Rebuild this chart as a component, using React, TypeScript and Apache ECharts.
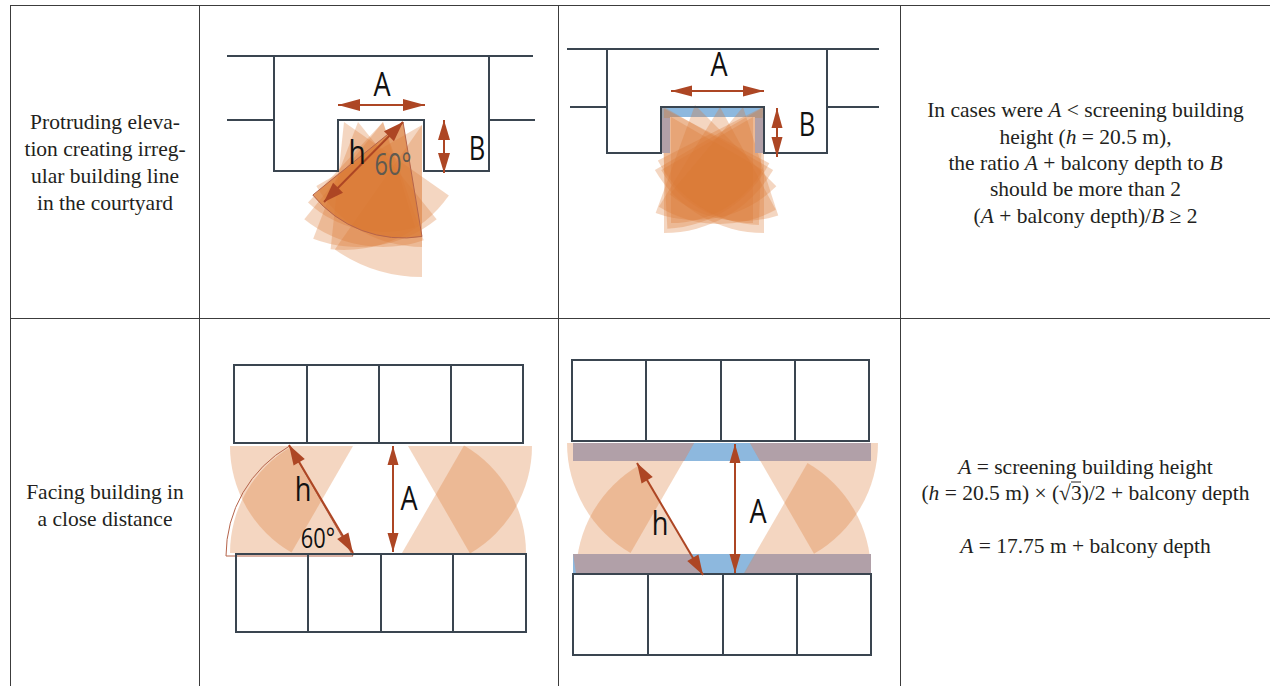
import React, { useEffect, useRef } from "react";
import * as echarts from "echarts";

const PAGE_W = 1270;
const PAGE_H = 686;
const SERIF = '"Liberation Serif", "Times New Roman", serif';
const SANS = '"Open Sans", "Noto Sans", sans-serif';
const INK = "#3a4550";
const RUST = "#ad4624";
const ORANGE = "#d97832";
const BLUE = "#8db8de";
const MAUVE = "#b1a0a8";

// Table rules: [x1, y1, x2, y2]
const tableRules: number[][] = [
  [10, 5.5, 1270, 5.5],
  [10, 318.5, 1270, 318.5],
  [10.5, 5, 10.5, 686],
  [199.5, 5, 199.5, 686],
  [558.5, 5, 558.5, 686],
  [900.5, 5, 900.5, 686],
];

// Walls, as polylines of [x, y]
const wallLines: number[][][] = [
  [[227, 56], [533, 56]],
  [[274, 56], [274, 171], [338, 171], [338, 120], [424, 120], [424, 171], [489, 171], [489, 56]],
  [[227, 120], [274, 120]],
  [[489, 120], [535, 120]],
  [[567, 49], [879, 49]],
  [[607, 49], [607, 153], [661, 153], [661, 107], [764, 107], [764, 153], [827, 153], [827, 49]],
  [[570, 107], [607, 107]],
  [[827, 107], [879, 107]],
];

// Building blocks: [left, top, right, bottom]
const blockRects: number[][] = [
  [234, 365, 307, 443], [307, 365, 379, 443], [379, 365, 451, 443], [451, 365, 523, 443],
  [236, 554, 308, 632], [308, 554, 381, 632], [381, 554, 453, 632], [453, 554, 526, 632],
  [572, 360, 646, 441], [646, 360, 721, 441], [721, 360, 795, 441], [795, 360, 869, 441],
  [573, 574, 648, 655], [648, 574, 723, 655], [723, 574, 797, 655], [797, 574, 871, 655],
];

// Balcony zones
const balconyPolygons: number[][][] = [
  [[661, 107], [764, 107], [764, 153], [755, 153], [755, 117], [670, 117], [670, 153], [661, 153]],
  [[573, 443], [871, 443], [871, 461], [573, 461]],
  [[573, 554], [871, 554], [871, 573], [573, 573]],
];

// Balcony zones seen through a view cone
const tintedBalconies: number[][][] = [
  [[573, 443], [694, 443], [684, 461], [573, 461]],
  [[750, 443], [871, 443], [871, 461], [760, 461]],
  [[573, 554], [691, 554], [702, 573], [576, 573]],
  [[756, 554], [871, 554], [871, 573], [745, 573]],
  [[661, 118], [670, 118], [670, 153], [661, 153]],
  [[755, 118], [764, 118], [764, 153], [755, 153]],
];

// View cones: [apexX, apexY, radius, startDeg, endDeg]
const conesProtruding: number[][] = [
  [344, 122, 128, 35, 96],
  [358, 122, 125, 51, 111],
  [383, 122, 125, 71, 129],
  [383, 122, 110, 73, 133],
  [422, 125, 152, 90, 125],
  [422, 125, 122, 90, 150],
];
const conesRecessed: number[][] = [
  [664, 107, 126, 30, 90],
  [764, 107, 126, 90, 150],
  [671, 117, 106, 30, 90],
  [753, 117, 106, 90, 150],
  [695, 105, 115, 45, 110],
  [720, 107, 117, 61.5, 121.5],
  [743, 107, 114, 72, 130],
  [763, 107, 118, 92, 153],
  [661, 107, 122, 27.4, 87],
];
const conesFacing: number[][] = [
  [353, 446, 123, 120, 180],
  [353, 553, 123, 180, 240],
  [408, 446, 124, 0, 60],
  [402, 553, 124, 300, 360],
  [694, 443, 127, 120, 180],
  [703, 575, 127, 180, 240],
  [750, 443, 128, 0, 60],
  [744, 573, 127, 300, 360],
];

// The densest cone, where the fan has built up to full colour
const conesDense: number[][] = [[403, 122, 116, 80.6, 141]];

// Outlined 60 degree cones
const coneOutlines: number[][] = [
  [403, 122, 116, 80.6, 141],
  [353, 556, 127, 180, 240],
];

// Double-headed dimension arrows: [x1, y1, x2, y2, headLength, headWidth]
const dimensionArrows: number[][] = [
  [338, 105, 425, 105, 22, 12],
  [444, 120, 444, 173, 20, 12],
  [403, 122, 324, 202, 20, 14],
  [671, 91, 764, 91, 21, 11],
  [777, 108, 777, 157, 20, 11],
  [289, 445, 353, 553, 20, 13],
  [393, 446, 393, 552, 19, 11],
  [637, 463, 703, 575, 20, 13],
  [735, 444, 735, 573, 19, 11],
];

// Diagram labels: [label, x, y, size, squeeze, colour]
const diagramLabels: [string, number, number, number, number, string][] = [
  ["A", 382, 83, 33, 0.82, "#111"],
  ["B", 477, 147, 32, 0.8, "#111"],
  ["h", 357, 151, 33, 0.85, "#111"],
  ["60°", 393, 163, 31, 0.76, "#5f5a50"],
  ["A", 719, 63, 33, 0.82, "#111"],
  ["B", 807, 123, 32, 0.8, "#111"],
  ["h", 303, 489, 32, 0.85, "#111"],
  ["A", 409, 497, 33, 0.82, "#111"],
  ["60°", 318, 537, 28, 0.78, "#111"],
  ["h", 660, 523, 32, 0.85, "#111"],
  ["A", 758, 510, 33, 0.82, "#111"],
];

// Table text: [rich text, x, y]
const tableText: [string, number, number][] = [
  ["Protruding eleva-", 105, 122],
  ["tion creating irreg-", 105, 149],
  ["ular building line", 105, 176],
  ["in the courtyard", 105, 203],
  ["Facing building in", 105, 492],
  ["a close distance", 105, 519],
  ["In cases were {i|A} < screening building", 1085.5, 110],
  ["height ({i|h} = 20.5 m),", 1085.5, 137],
  ["the ratio {i|A} + balcony depth to {i|B}", 1085.5, 163],
  ["should be more than 2", 1085.5, 189],
  ["({i|A} + balcony depth)/{i|B} ≥ 2", 1085.5, 216],
  ["{i|A} = screening building height", 1085.5, 467],
  ["({i|h} = 20.5 m) × (√3)/2 + balcony depth", 1085.5, 493],
  ["{i|A} = 17.75 m + balcony depth", 1085.5, 546],
];

// Root bar over the 3 in the √3 term: [x1, y1, x2, y2]
const rootBars: number[][] = [[1071, 482, 1081, 482]];

const rad = (d: number) => (d * Math.PI) / 180;

const sectorSeries = (rows: number[][], style: any, z: number) => ({
  type: "custom",
  coordinateSystem: "cartesian2d",
  clip: false,
  silent: true,
  z,
  encode: { x: 0, y: 1 },
  data: rows,
  renderItem: (_: any, api: any) => {
    const c = api.coord([api.value(0), api.value(1)]);
    const r = api.size([api.value(2), 0])[0];
    return {
      type: "sector",
      shape: {
        cx: c[0],
        cy: c[1],
        r,
        r0: 0,
        startAngle: rad(api.value(3)),
        endAngle: rad(api.value(4)),
        clockwise: true,
      },
      style,
    };
  },
});

const segmentSeries = (rows: number[][], style: any, z: number) => ({
  type: "custom",
  coordinateSystem: "cartesian2d",
  clip: false,
  silent: true,
  z,
  encode: { x: 0, y: 1 },
  data: rows,
  renderItem: (_: any, api: any) => {
    const a = api.coord([api.value(0), api.value(1)]);
    const b = api.coord([api.value(2), api.value(3)]);
    return { type: "line", shape: { x1: a[0], y1: a[1], x2: b[0], y2: b[1] }, style };
  },
});

const indexed = (list: any[]) => list.map((_, i) => [i]);

const polygonSeries = (list: number[][][], fill: string, z: number) => ({
  type: "custom",
  coordinateSystem: "cartesian2d",
  clip: false,
  silent: true,
  z,
  data: indexed(list),
  renderItem: (p: any, api: any) => ({
    type: "polygon",
    shape: { points: list[p.dataIndex].map((q) => api.coord(q)) },
    style: { fill },
  }),
});

export default function App() {
  const ref = useRef<HTMLDivElement>(null);
  useEffect(() => {
    if (!ref.current) return;
    document.body.style.margin = "0";
    const chart = echarts.init(ref.current, undefined, { renderer: "svg" });
    chart.setOption({
      animation: false,
      backgroundColor: "#ffffff",
      grid: { left: 0, right: 0, top: 0, bottom: 0 },
      xAxis: { type: "value", min: 0, max: PAGE_W, show: false },
      yAxis: { type: "value", min: 0, max: PAGE_H, inverse: true, show: false },
      tooltip: { show: false },
      series: [
        segmentSeries(tableRules, { stroke: "#3c3c3c", lineWidth: 1 }, 1),
        polygonSeries(balconyPolygons, BLUE, 2),
        sectorSeries(
          [...conesProtruding, ...conesRecessed, ...conesFacing],
          { fill: ORANGE, opacity: 0.3 },
          3
        ),
        sectorSeries(conesDense, { fill: ORANGE, opacity: 0.72 }, 3),
        polygonSeries(tintedBalconies, MAUVE, 4),
        sectorSeries(coneOutlines, { fill: "none", stroke: "#b5644b", lineWidth: 1 }, 4),
        {
          type: "custom",
          coordinateSystem: "cartesian2d",
          clip: false,
          silent: true,
          z: 5,
          data: indexed(wallLines),
          renderItem: (p: any, api: any) => ({
            type: "polyline",
            shape: { points: wallLines[p.dataIndex].map((q) => api.coord(q)) },
            style: { stroke: INK, lineWidth: 2, fill: "none" },
          }),
        },
        {
          type: "custom",
          coordinateSystem: "cartesian2d",
          clip: false,
          silent: true,
          z: 5,
          data: indexed(blockRects),
          renderItem: (p: any, api: any) => {
            const [l, t, r, b] = blockRects[p.dataIndex];
            const a = api.coord([l, t]);
            const c = api.coord([r, b]);
            return {
              type: "rect",
              shape: { x: a[0], y: a[1], width: c[0] - a[0], height: c[1] - a[1] },
              style: { fill: "none", stroke: INK, lineWidth: 2 },
            };
          },
        },
        {
          type: "custom",
          coordinateSystem: "cartesian2d",
          clip: false,
          silent: true,
          z: 6,
          data: dimensionArrows,
          encode: { x: 0, y: 1 },
          renderItem: (_: any, api: any) => {
            const a = api.coord([api.value(0), api.value(1)]);
            const b = api.coord([api.value(2), api.value(3)]);
            const len = api.value(4);
            const half = api.value(5) / 2;
            const d = Math.hypot(b[0] - a[0], b[1] - a[1]);
            const ux = (b[0] - a[0]) / d;
            const uy = (b[1] - a[1]) / d;
            const head = (tip: number[], sx: number) => {
              const bx = tip[0] + sx * ux * len;
              const by = tip[1] + sx * uy * len;
              return {
                type: "polygon",
                shape: {
                  points: [
                    tip,
                    [bx - uy * half, by + ux * half],
                    [bx + uy * half, by - ux * half],
                  ],
                },
                style: { fill: RUST },
              };
            };
            return {
              type: "group",
              children: [
                {
                  type: "line",
                  shape: { x1: a[0], y1: a[1], x2: b[0], y2: b[1] },
                  style: { stroke: RUST, lineWidth: 2 },
                },
                head(a, 1),
                head(b, -1),
              ],
            };
          },
        },
        {
          type: "custom",
          coordinateSystem: "cartesian2d",
          clip: false,
          silent: true,
          z: 7,
          data: indexed(diagramLabels),
          renderItem: (p: any, api: any) => {
            const [label, x, y, size, squeeze, colour] = diagramLabels[p.dataIndex];
            const c = api.coord([x, y]);
            return {
              type: "text",
              x: c[0],
              y: c[1],
              scaleX: squeeze,
              style: {
                text: label,
                x: 0,
                y: 0,
                align: "center",
                verticalAlign: "middle",
                fontFamily: SANS,
                fontSize: size,
                fill: colour,
              },
            };
          },
        },
        {
          type: "custom",
          coordinateSystem: "cartesian2d",
          clip: false,
          silent: true,
          z: 7,
          data: indexed(tableText),
          renderItem: (p: any, api: any) => {
            const [label, x, y] = tableText[p.dataIndex];
            const c = api.coord([x, y]);
            return {
              type: "text",
              style: {
                text: label,
                x: c[0],
                y: c[1],
                align: "center",
                verticalAlign: "middle",
                fontFamily: SERIF,
                fontSize: 21.5,
                fill: "#231f20",
                rich: {
                  i: { fontFamily: SERIF, fontSize: 21.5, fontStyle: "italic", fill: "#231f20" },
                },
              },
            };
          },
        },
        segmentSeries(rootBars, { stroke: "#231f20", lineWidth: 1 }, 7),
      ],
    });
    return () => chart.dispose();
  }, []);
  return (
    <div style={{ position: "fixed", left: 0, top: 0, width: PAGE_W, height: PAGE_H }}>
      <div ref={ref} style={{ width: PAGE_W, height: PAGE_H }} />
    </div>
  );
}
